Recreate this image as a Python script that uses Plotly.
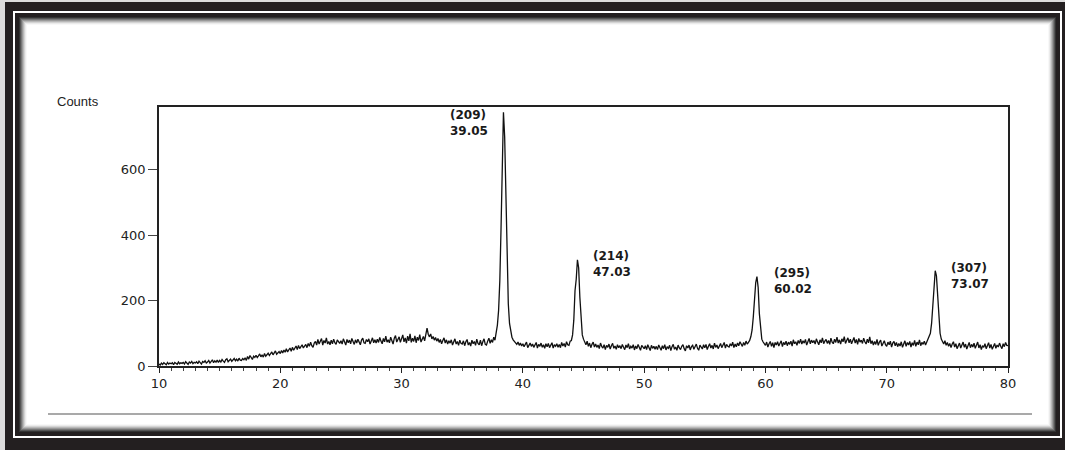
import numpy as np
import plotly.graph_objects as go

# ---------------- data ----------------
two_theta_start = 10.0
two_theta_step = 0.1

counts = [
    # 10
    6, 3, 9, 5, 10, 7, 4, 11, 6, 9,
    # 11
    7, 10, 4, 11, 8, 5, 12, 7, 10, 8,
    # 12
    11, 6, 13, 8, 5, 12, 9, 14, 7, 11,
    # 13
    9, 13, 7, 15, 10, 6, 14, 11, 16, 9,
    # 14
    12, 17, 9, 15, 19, 10, 16, 12, 18, 11,
    # 15
    17, 12, 20, 15, 11, 19, 22, 13, 18, 21,
    # 16
    14, 20, 23, 16, 21, 15, 24, 18, 17, 23,
    # 17
    19, 25, 17, 29, 21, 32, 24, 20, 30, 26,
    # 18
    33, 26, 31, 37, 28, 34, 27, 38, 30, 35,
    # 19
    39, 32, 37, 43, 34, 40, 46, 36, 41, 44,
    # 20
    38, 47, 40, 49, 42, 53, 43, 50, 55, 45,
    # 21
    57, 48, 54, 61, 50, 63, 53, 58, 65, 55,
    # 22
    59, 66, 56, 69, 60, 73, 62, 57, 70, 75,
    # 23
    64, 81, 67, 76, 84, 64, 78, 70, 86, 67,
    # 24
    75, 65, 79, 68, 82, 71, 66, 80, 74, 69,
    # 25
    77, 67, 83, 72, 64, 81, 71, 79, 68, 84,
    # 26
    75, 66, 80, 70, 82, 72, 65, 79, 85, 71,
    # 27
    69, 81, 74, 83, 67, 76, 86, 71, 80, 70,
    # 28
    82, 72, 87, 76, 68, 84, 74, 91, 73, 80,
    # 29
    71, 88, 77, 67, 85, 93, 73, 81, 89, 72,
    # 30
    81, 95, 74, 86, 70, 91, 77, 98, 72, 85,
    # 31
    75, 92, 71, 88, 78, 96, 73, 83, 90, 77,
    # 32
    104, 116, 97, 89, 98, 83, 90, 79, 87, 76,
    # 33
    84, 72, 81, 68, 78, 86, 70, 80, 67, 77,
    # 34
    70, 80, 64, 76, 83, 67, 75, 63, 79, 69,
    # 35
    67, 77, 62, 74, 81, 64, 72, 61, 79, 68,
    # 36
    75, 63, 82, 69, 65, 79, 62, 74, 83, 66,
    # 37
    64, 76, 85, 69, 80, 72, 88, 79, 98, 125,
    # 38
    170, 260, 420, 620, 775, 700, 520, 330, 190, 130,
    # 39
    100, 88, 80, 74, 70, 66, 73, 63, 70, 61,
    # 40
    68, 59, 66, 73, 56, 65, 70, 60, 67, 57,
    # 41
    64, 72, 55, 66, 60, 70, 57, 65, 54, 68,
    # 42
    59, 69, 56, 64, 71, 55, 65, 60, 68, 57,
    # 43
    66, 56, 72, 61, 69, 58, 74, 65, 63, 76,
    # 44
    78, 95, 140, 230, 265, 324, 300, 210, 130, 95,
    # 45
    82, 72, 65, 76, 60, 70, 56, 66, 73, 58,
    # 46
    67, 57, 64, 53, 70, 60, 55, 65, 50, 63,
    # 47
    57, 67, 52, 62, 69, 54, 61, 51, 65, 56,
    # 48
    62, 53, 66, 57, 50, 64, 56, 68, 52, 60,
    # 49
    55, 65, 49, 61, 53, 66, 57, 48, 63, 56,
    # 50
    53, 62, 50, 65, 56, 47, 63, 54, 60, 51,
    # 51
    60, 50, 64, 55, 48, 62, 53, 65, 49, 58,
    # 52
    54, 63, 47, 59, 66, 51, 58, 48, 64, 55,
    # 53
    50, 60, 65, 53, 46, 62, 55, 64, 49, 59,
    # 54
    63, 51, 58, 67, 54, 48, 64, 57, 52, 65,
    # 55
    56, 66, 50, 60, 68, 55, 63, 52, 70, 57,
    # 56
    64, 53, 61, 69, 56, 63, 72, 55, 66, 60,
    # 57
    58, 68, 61, 73, 56, 67, 59, 70, 62, 74,
    # 58
    65, 60, 72, 63, 76, 67, 72, 78, 90, 110,
    # 59
    150, 210, 255, 273, 240, 160, 105, 82, 74, 67,
    # 60
    63, 73, 58, 68, 75, 60, 71, 56, 72, 64,
    # 61
    74, 61, 69, 77, 59, 72, 65, 76, 62, 73,
    # 62
    66, 76, 61, 80, 68, 74, 63, 78, 69, 82,
    # 63
    67, 77, 70, 81, 64, 75, 84, 68, 79, 71,
    # 64
    78, 67, 83, 73, 65, 80, 71, 86, 68, 76,
    # 65
    81, 69, 78, 66, 85, 73, 68, 82, 72, 88,
    # 66
    70, 80, 67, 83, 74, 90, 69, 78, 86, 71,
    # 67
    82, 68, 77, 87, 70, 81, 66, 84, 73, 79,
    # 68
    69, 85, 74, 67, 82, 71, 89, 68, 77, 64,
    # 69
    75, 66, 81, 63, 73, 79, 61, 71, 77, 65,
    # 70
    60, 73, 65, 76, 58, 70, 75, 62, 72, 59,
    # 71
    69, 61, 74, 57, 68, 77, 60, 72, 64, 75,
    # 72
    58, 71, 63, 78, 60, 73, 65, 80, 62, 72,
    # 73
    66, 76, 64, 73, 78, 85, 100, 130, 190, 250,
    # 74
    291, 275, 210, 140, 100, 82, 73, 67, 77, 63,
    # 75
    72, 60, 69, 56, 67, 74, 58, 68, 53, 65,
    # 76
    70, 55, 64, 73, 57, 67, 52, 63, 72, 56,
    # 77
    66, 58, 70, 54, 64, 73, 55, 65, 50, 62,
    # 78
    57, 68, 53, 63, 71, 55, 66, 51, 61, 69,
    # 79
    54, 64, 58, 70, 60, 53, 68, 59, 72, 63,
    # 80
    62,
]

two_theta = np.round(two_theta_start + two_theta_step * np.arange(len(counts)), 2)

peak_hkl = ["(209)", "(214)", "(295)", "(307)"]
peak_pos_labels = ["39.05", "47.03", "60.02", "73.07"]
# label anchor positions (data coords): x centre, y centre of the two-line label
label_x = [35.56, 47.35, 62.31, 76.86]
label_y = [743, 313, 259, 275]

x_ticks = [10, 20, 30, 40, 50, 60, 70, 80]
y_ticks = [0, 200, 400, 600]

# ---------------- layout geometry ----------------
FW, FH = 1065, 450
L, R, T, B = 159, 57, 107, 84
PW, PH = FW - L - R, FH - T - B


def px(p):
    return (p - L) / PW


def py(p):
    return (FH - B - p) / PH


fig = go.Figure()
fig.add_trace(go.Scatter(
    x=two_theta, y=counts, mode="lines",
    line=dict(color="#111111", width=1.3),
    showlegend=False, hoverinfo="x+y",
))

shapes = []


def rect(x0, y0, x1, y1, color):
    shapes.append(dict(type="rect", xref="paper", yref="paper",
                       x0=px(x0), x1=px(x1), y0=py(y1), y1=py(y0),
                       fillcolor=color, line=dict(width=0), layer="below"))


rect(0, 0, FW, FH, "#dcdcdc")
rect(5, 2, FW, FH, "#231f20")
rect(13, 11, 1062, 438, "#ffffff")
rect(15, 13, 1060, 436, "#231f20")
grad = ["#333333", "#555555", "#777777", "#999999", "#b8b8b8", "#d4d4d4", "#ebebeb", "#f8f8f8", "#ffffff"]
for i, c in enumerate(grad):
    rect(19 + i, 17 + i, 1056 - i, 432 - i, c)

shapes.append(dict(type="line", xref="paper", yref="paper",
                   x0=px(48), x1=px(1032), y0=py(414), y1=py(414),
                   line=dict(color="#8c8c8c", width=1.5), layer="below"))

annotations = [dict(
    text="Counts", xref="paper", yref="paper", x=px(55), y=py(101),
    xanchor="left", yanchor="middle", showarrow=False,
    font=dict(family="Liberation Sans, Arial, sans-serif", size=13, color="#222222"),
)]
for hkl, lab, xx, yy in zip(peak_hkl, peak_pos_labels, label_x, label_y):
    annotations.append(dict(
        text="<b>%s<br>%s</b>" % (hkl, lab), x=xx, y=yy, xref="x", yref="y",
        xanchor="center", yanchor="middle", align="left", showarrow=False,
        font=dict(family="DejaVu Sans, sans-serif", size=12, color="#1a1a1a"),
    ))

tick_font = dict(family="DejaVu Sans, sans-serif", size=13, color="#222222")

fig.update_layout(
    width=FW, height=FH, autosize=False,
    margin=dict(l=L, r=R, t=T, b=B, pad=0),
    paper_bgcolor="#ffffff", plot_bgcolor="rgba(0,0,0,0)",
    shapes=shapes, annotations=annotations,
    xaxis=dict(
        range=[10, 80], tickvals=x_ticks, ticks="outside", ticklen=5, tickwidth=1,
        tickcolor="#222222", showline=True, linecolor="#222222", linewidth=1.5, mirror=True,
        showgrid=False, zeroline=False, tickfont=tick_font,
        minor=dict(dtick=1, ticks="outside", ticklen=3, tickcolor="#444444", showgrid=False),
    ),
    yaxis=dict(
        range=[0, 791], tickvals=y_ticks, ticks="outside", ticklen=9, tickwidth=1,
        tickcolor="#444444", showline=True, linecolor="#222222", linewidth=1.5, mirror=True,
        showgrid=False, zeroline=False, tickfont=tick_font,
    ),
)

fig.write_html("out.html")
